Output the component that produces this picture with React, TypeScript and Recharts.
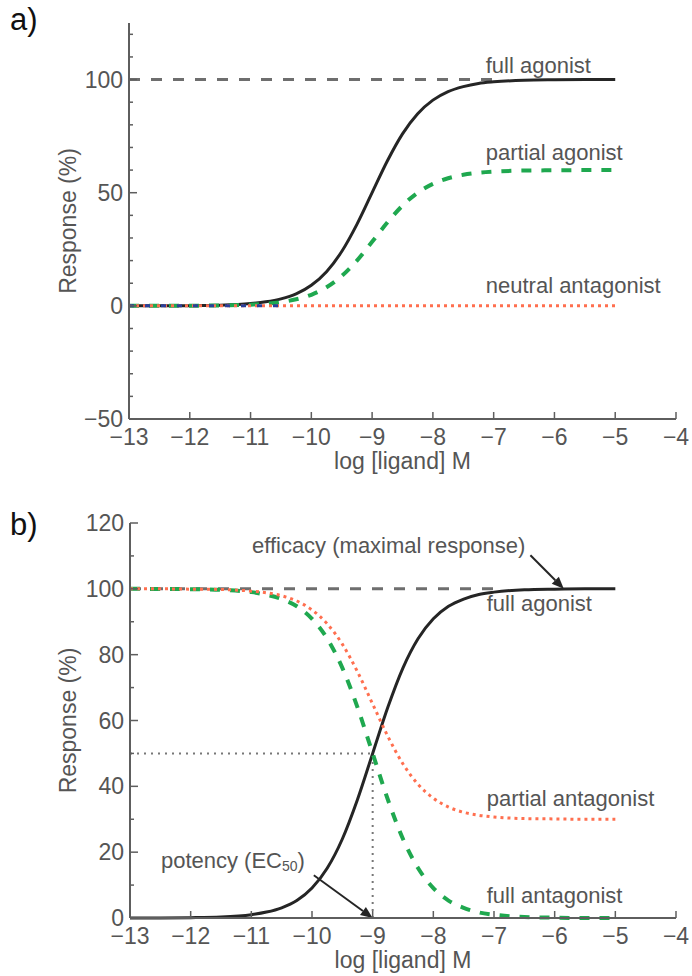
import React from "react";
import { LineChart, Line, XAxis, YAxis, ReferenceLine, ReferenceDot } from "recharts";

// log [ligand] M sample points
const logLigand = [-13, -12.5, -12, -11.5, -11, -10.75, -10.5, -10.25, -10, -9.75, -9.5, -9.25, -9, -8.75, -8.5, -8.25, -8, -7.75, -7.5, -7.25, -7, -6.5, -6, -5.5, -5];

// response (%) for each curve
const fullAgonist = [0, 0.03, 0.1, 0.3, 1.0, 1.8, 3.1, 5.3, 9.1, 15.1, 24.0, 36.0, 50.0, 64.0, 76.0, 84.9, 90.9, 94.7, 96.9, 98.3, 99.0, 99.7, 99.9, 100, 100];
const partialAgonist = [0, 0.02, 0.05, 0.17, 0.53, 0.94, 1.65, 2.9, 4.9, 8.2, 13.2, 20.0, 28.3, 36.8, 44.3, 50.0, 53.9, 56.4, 57.9, 58.8, 59.3, 59.8, 59.9, 60, 60];
const neutralAntagonist = [0, 0, 0, 0, 0, 0, 0, 0, 0, 0, 0, 0, 0, 0, 0, 0, 0, 0, 0, 0, 0, 0, 0, 0, 0];
const blueTrace = [0, 0, 0, 0, 0, 0, 0, null, null, null, null, null, null, null, null, null, null, null, null, null, null, null, null, null, null];
const partialAntagonist = [100, 100, 99.9, 99.8, 99.3, 98.8, 97.9, 96.3, 93.6, 89.4, 83.2, 74.8, 65.0, 55.2, 46.8, 40.6, 36.4, 33.7, 32.1, 31.2, 30.7, 30.2, 30.1, 30, 30];
const fullAntagonist = [100, 99.97, 99.9, 99.7, 99.0, 98.2, 96.9, 94.7, 90.9, 84.9, 76.0, 64.0, 50.0, 36.0, 24.0, 15.1, 9.1, 5.3, 3.1, 1.7, 1.0, 0.3, 0.1, 0, 0];

const xTicks = [-13, -12, -11, -10, -9, -8, -7, -6, -5, -4];
const yTicksA = [-50, -40, -30, -20, -10, 0, 10, 20, 30, 40, 50, 60, 70, 80, 90, 100, 110, 120];
const yMajorA = [-50, 0, 50, 100];
const yTicksB = [0, 10, 20, 30, 40, 50, 60, 70, 80, 90, 100, 110, 120];
const yMajorB = [0, 20, 40, 60, 80, 100, 120];

const dataA = logLigand.map((x, i) => ({
  x,
  full: fullAgonist[i],
  partial: partialAgonist[i],
  neutral: neutralAntagonist[i],
  blue: blueTrace[i],
}));

const dataB = logLigand.map((x, i) => ({
  x,
  full: fullAgonist[i],
  partialAnt: partialAntagonist[i],
  fullAnt: fullAntagonist[i],
}));

const AXIS = "#5e5e5e";
const TEXT = "#555";
const FONT = "'Liberation Sans', Arial, sans-serif";
const BLACK = "#252525";
const GREEN = "#1fa84f";
const RED = "#ff6f4f";

const fmt = (v: number) => (v < 0 ? "\u2212" + Math.abs(v) : String(v));

function YTick(props: any) {
  const { x, y, payload, majors } = props;
  const major = majors.includes(payload.value);
  return (
    <g>
      <line x1={x} x2={x + (major ? 8 : 4)} y1={y} y2={y} stroke={AXIS} strokeWidth={1.5} />
      {major && (
        <text x={x - 6} y={y} dy={8} textAnchor="end" fill={TEXT} fontSize={23} fontFamily={FONT}>
          {fmt(payload.value)}
        </text>
      )}
    </g>
  );
}

function XTick(props: any) {
  const { x, y, payload } = props;
  return (
    <g>
      <line x1={x} x2={x} y1={y} y2={y - 7} stroke={AXIS} strokeWidth={1.5} />
      <text x={x} y={y + 26} textAnchor="middle" fill={TEXT} fontSize={23} fontFamily={FONT}>
        {fmt(payload.value)}
      </text>
    </g>
  );
}

function XTitle(props: any) {
  const vb = props.viewBox;
  return (
    <text x={vb.x + vb.width / 2} y={vb.y + 50} textAnchor="middle" fill={TEXT} fontSize={23} fontFamily={FONT}>
      log [ligand] M
    </text>
  );
}

function YTitle(props: any) {
  const vb = props.viewBox;
  const cx = vb.x + 68;
  const cy = vb.y + vb.height / 2;
  return (
    <text x={cx} y={cy} transform={`rotate(-90, ${cx}, ${cy})`} textAnchor="middle" dominantBaseline="central" fill={TEXT} fontSize={23} fontFamily={FONT}>
      Response (%)
    </text>
  );
}

function Anno(props: any) {
  const { viewBox, text } = props;
  return (
    <text x={viewBox.x} y={viewBox.y} fill={TEXT} fontSize={22} fontFamily={FONT}>
      {text}
    </text>
  );
}

function Potency(props: any) {
  const { viewBox } = props;
  return (
    <text x={viewBox.x} y={viewBox.y} fill={TEXT} fontSize={22} fontFamily={FONT}>
      potency (EC
      <tspan fontSize={14} dy={3}>50</tspan>
      <tspan dy={-3}>)</tspan>
    </text>
  );
}

function Arrow(props: any) {
  const { x1, y1, x2, y2 } = props;
  const a = Math.atan2(y2 - y1, x2 - x1);
  const len = 12;
  const half = 5;
  const bx = x2 - len * Math.cos(a);
  const by = y2 - len * Math.sin(a);
  const pts = [
    [x2, y2],
    [bx + half * Math.sin(a), by - half * Math.cos(a)],
    [bx - half * Math.sin(a), by + half * Math.cos(a)],
  ]
    .map((p) => p.join(","))
    .join(" ");
  return (
    <g>
      <line x1={x1} y1={y1} x2={bx} y2={by} stroke={BLACK} strokeWidth={2} />
      <polygon points={pts} fill={BLACK} />
    </g>
  );
}

export default function App() {
  return (
    <div style={{ position: "absolute", left: 0, top: 0, width: 692, height: 976, background: "#fff", fontFamily: FONT }}>
      <div style={{ position: "absolute", left: 10, top: 2, fontSize: 31, color: "#111" }}>a)</div>
      <div style={{ position: "absolute", left: 10, top: 507, fontSize: 31, color: "#111" }}>b)</div>

      <div style={{ position: "absolute", left: 0, top: 0 }}>
        <LineChart width={692} height={480} data={dataA} margin={{ top: 23, right: 16, left: 0, bottom: 0 }}>
          <XAxis
            type="number"
            dataKey="x"
            domain={[-13, -4]}
            ticks={xTicks}
            interval={0}
            height={61}
            tickSize={0}
            tickMargin={0}
            tickLine={false}
            axisLine={{ stroke: AXIS, strokeWidth: 2 }}
            tick={<XTick />}
            label={<XTitle />}
          />
          <YAxis
            type="number"
            domain={[-50, 125]}
            ticks={yTicksA}
            interval={0}
            width={129}
            tickSize={0}
            tickMargin={0}
            tickLine={false}
            axisLine={{ stroke: AXIS, strokeWidth: 2 }}
            tick={<YTick majors={yMajorA} />}
            label={<YTitle />}
          />
          <ReferenceLine segment={[{ x: -13, y: 100 }, { x: -7, y: 100 }]} stroke="#6e6e6e" strokeWidth={3} strokeDasharray="11 11" />
          <Line type="monotone" dataKey="full" stroke={BLACK} strokeWidth={3} dot={false} isAnimationActive={false} />
          <Line type="monotone" dataKey="partial" stroke={GREEN} strokeWidth={4} strokeDasharray="10 10" dot={false} isAnimationActive={false} />
          <Line type="monotone" dataKey="neutral" stroke={RED} strokeWidth={3} strokeDasharray="3 4" dot={false} isAnimationActive={false} />
          <Line type="monotone" dataKey="blue" stroke="#2a3f9a" strokeWidth={3} strokeDasharray="5 11" dot={false} isAnimationActive={false} />
          <ReferenceDot x={-7.13} y={103} r={0} fill="none" stroke="none" label={<Anno text="full agonist" />} />
          <ReferenceDot x={-7.13} y={64.4} r={0} fill="none" stroke="none" label={<Anno text="partial agonist" />} />
          <ReferenceDot x={-7.13} y={5.5} r={0} fill="none" stroke="none" label={<Anno text="neutral antagonist" />} />
        </LineChart>
      </div>

      <div style={{ position: "absolute", left: 0, top: 480 }}>
        <LineChart width={692} height={496} data={dataB} margin={{ top: 43, right: 16, left: 0, bottom: 0 }}>
          <XAxis
            type="number"
            dataKey="x"
            domain={[-13, -4]}
            ticks={xTicks}
            interval={0}
            height={58}
            tickSize={0}
            tickMargin={0}
            tickLine={false}
            axisLine={{ stroke: AXIS, strokeWidth: 2 }}
            tick={<XTick />}
            label={<XTitle />}
          />
          <YAxis
            type="number"
            domain={[0, 120]}
            ticks={yTicksB}
            interval={0}
            width={130}
            tickSize={0}
            tickMargin={0}
            tickLine={false}
            axisLine={{ stroke: AXIS, strokeWidth: 2 }}
            tick={<YTick majors={yMajorB} />}
            label={<YTitle />}
          />
          <ReferenceLine segment={[{ x: -13, y: 100 }, { x: -7, y: 100 }]} stroke="#6e6e6e" strokeWidth={3} strokeDasharray="11 11" />
          <ReferenceLine segment={[{ x: -13, y: 50 }, { x: -9, y: 50 }]} stroke="#777" strokeWidth={2} strokeDasharray="2 5" />
          <ReferenceLine segment={[{ x: -9, y: 0 }, { x: -9, y: 50 }]} stroke="#777" strokeWidth={2} strokeDasharray="2 5" />
          <Line type="monotone" dataKey="full" stroke={BLACK} strokeWidth={3} dot={false} isAnimationActive={false} />
          <Line type="monotone" dataKey="fullAnt" stroke={GREEN} strokeWidth={4} strokeDasharray="10 10" dot={false} isAnimationActive={false} />
          <Line type="monotone" dataKey="partialAnt" stroke={RED} strokeWidth={3} strokeDasharray="3 4" dot={false} isAnimationActive={false} />
          <ReferenceLine segment={[{ x: -6.4, y: 110.2 }, { x: -5.85, y: 100 }]} shape={<Arrow />} />
          <ReferenceLine segment={[{ x: -9.97, y: 13 }, { x: -9, y: 0 }]} shape={<Arrow />} />
          <ReferenceDot x={-10.99} y={111} r={0} fill="none" stroke="none" label={<Anno text="efficacy (maximal response)" />} />
          <ReferenceDot x={-7.12} y={93.4} r={0} fill="none" stroke="none" label={<Anno text="full agonist" />} />
          <ReferenceDot x={-7.12} y={34.1} r={0} fill="none" stroke="none" label={<Anno text="partial antagonist" />} />
          <ReferenceDot x={-7.12} y={4.5} r={0} fill="none" stroke="none" label={<Anno text="full antagonist" />} />
          <ReferenceDot x={-12.49} y={15.2} r={0} fill="none" stroke="none" label={<Potency />} />
        </LineChart>
      </div>
    </div>
  );
}
